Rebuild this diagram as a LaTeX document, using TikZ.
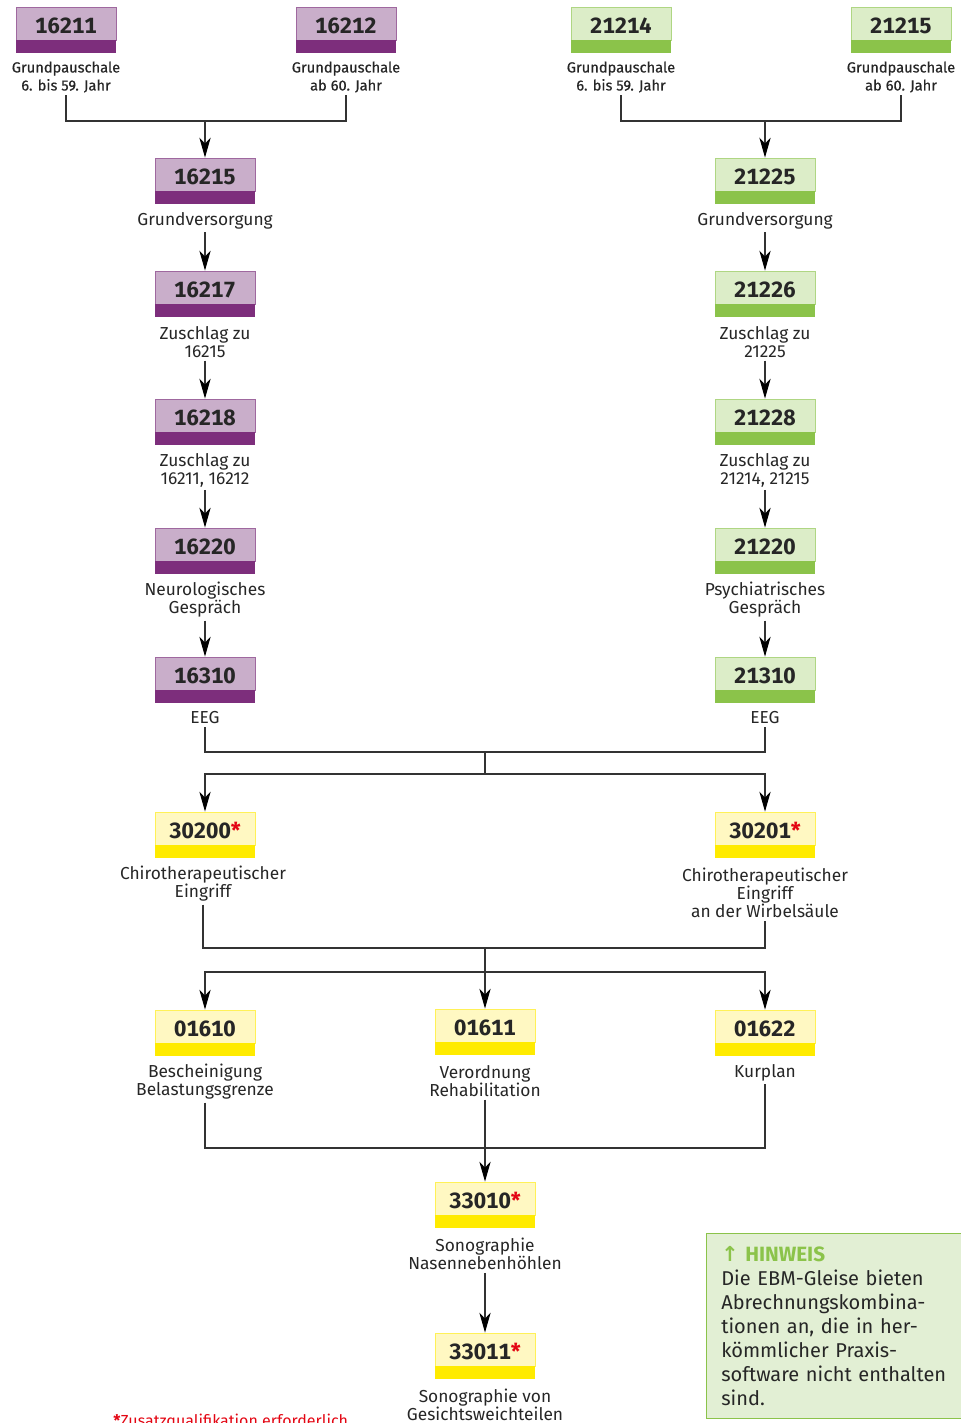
\documentclass[tikz,border=0pt]{standalone}
\usepackage{fontspec}
\setmainfont{Fira Sans}
\newfontfamily\medfont[FakeBold=0.6]{Fira Sans}
\newfontfamily\numfont[Numbers=Monospaced]{Fira Sans}
\newfontfamily\symfont{DejaVu Sans}
\usetikzlibrary{arrows.meta}
\definecolor{purL}{HTML}{C9AECA}
\definecolor{purD}{HTML}{7D2E7C}
\definecolor{grnL}{HTML}{DCEDC8}
\definecolor{grnD}{HTML}{8BC34A}
\definecolor{yelL}{HTML}{FFF8C2}
\definecolor{yelD}{HTML}{FFEB00}
\definecolor{linec}{HTML}{333333}
\definecolor{hintL}{HTML}{E2EFD4}
\definecolor{txt}{HTML}{262626}
\definecolor{starred}{HTML}{E30613}
\tikzset{
  codetop/.style={rectangle, minimum width=75pt, minimum height=24.75pt, inner sep=0pt,
    text height=14.5pt, text depth=0pt,
    line width=0.6pt, text=txt, font=\numfont\fontsize{16.5}{18}\selectfont\bfseries},
  codestrip/.style={rectangle, minimum width=75pt, minimum height=9.75pt, inner sep=0pt, draw=none},
  lbl/.style={align=center, inner sep=2pt, text=txt, font=\fontsize{13}{13.5}\selectfont},
  toplbl/.style={align=center, inner sep=2pt, text=txt, font=\medfont\fontsize{11}{13.5}\selectfont},
  conn/.style={draw=linec, line width=0.8pt},
  arr/.style={conn, -{Stealth[length=15pt, width=8.5pt, inset=4.5pt, color=black]}},
}
\newcommand\cbox[6]{%
  \node[codetop, fill=#5, draw=#6!55!#5] (#1) at (#2,#3+16.5) {#4};
  \node[codestrip, fill=#6] (#1s) at (#2,#3+39.5) {};
}
\newcommand\rstar{\textcolor{starred}{*}}
\begin{document}
\begin{tikzpicture}[x=0.75pt, y=-0.75pt]
\useasboundingbox (0,0) rectangle (960,1423);
% top row
\cbox{b16211}{66}{7}{16211}{purL}{purD}
\cbox{b16212}{346}{7}{16212}{purL}{purD}
\cbox{b21214}{621}{7}{21214}{grnL}{grnD}
\cbox{b21215}{901}{7}{21215}{grnL}{grnD}
\node[toplbl] (l16211) at (66,77) {Grundpauschale\\6. bis 59. Jahr};
\node[toplbl] (l16212) at (346,77) {Grundpauschale\\ab 60. Jahr};
\node[toplbl] (l21214) at (621,77) {Grundpauschale\\6. bis 59. Jahr};
\node[toplbl] (l21215) at (901,77) {Grundpauschale\\ab 60. Jahr};
% left column
\cbox{b16215}{205}{158}{16215}{purL}{purD}
\cbox{b16217}{205}{271}{16217}{purL}{purD}
\cbox{b16218}{205}{399}{16218}{purL}{purD}
\cbox{b16220}{205}{528}{16220}{purL}{purD}
\cbox{b16310}{205}{657}{16310}{purL}{purD}
\node[lbl] (l16215) at (205,221) {Grundversorgung};
\node[lbl] (l16217) at (205,342) {Zuschlag zu\\16215};
\node[lbl] (l16218) at (205,470) {Zuschlag zu\\16211, 16212};
\node[lbl] (l16220) at (205,600) {Neurologisches\\Gespräch};
\node[lbl] (l16310) at (205,718) {EEG};
% right column
\cbox{b21225}{765}{158}{21225}{grnL}{grnD}
\cbox{b21226}{765}{271}{21226}{grnL}{grnD}
\cbox{b21228}{765}{399}{21228}{grnL}{grnD}
\cbox{b21220}{765}{528}{21220}{grnL}{grnD}
\cbox{b21310}{765}{657}{21310}{grnL}{grnD}
\node[lbl] (l21225) at (765,221) {Grundversorgung};
\node[lbl] (l21226) at (765,342) {Zuschlag zu\\21225};
\node[lbl] (l21228) at (765,470) {Zuschlag zu\\21214, 21215};
\node[lbl] (l21220) at (765,600) {Psychiatrisches\\Gespräch};
\node[lbl] (l21310) at (765,718) {EEG};
% yellow
\cbox{b30200}{205}{812}{30200\rstar}{yelL}{yelD}
\cbox{b30201}{765}{812}{30201\rstar}{yelL}{yelD}
\node[lbl] (l30200) at (203,884) {Chirotherapeutischer\\Eingriff};
\node[lbl] (l30201) at (765,893) {Chirotherapeutischer\\Eingriff\\an der Wirbelsäule};
\cbox{b01610}{205}{1010}{01610}{yelL}{yelD}
\cbox{b01611}{485}{1009}{01611}{yelL}{yelD}
\cbox{b01622}{765}{1010}{01622}{yelL}{yelD}
\node[lbl] (l01610) at (205,1082) {Bescheinigung\\Belastungsgrenze};
\node[lbl] (l01611) at (485,1081) {Verordnung\\Rehabilitation};
\node[lbl] (l01622) at (765,1073) {Kurplan};
\cbox{b33010}{485}{1182}{33010\rstar}{yelL}{yelD}
\cbox{b33011}{485}{1333}{33011\rstar}{yelL}{yelD}
\node[lbl] (l33010) at (485,1254) {Sonographie\\Nasennebenhöhlen};
\node[lbl] (l33011) at (485,1405) {Sonographie von\\Gesichtsweichteilen};
% junctions
\coordinate (jTL) at (205,121);
\coordinate (jTR) at (765,121);
\coordinate (m1) at (485,752);
\coordinate (m2) at (485,774);
\coordinate (m3) at (485,948);
\coordinate (m4) at (485,972);
\coordinate (m5) at (485,1148);
% connectors
\draw[conn] (l16211.south) |- (jTL) -| (l16212.south);
\draw[arr] (jTL) -- (b16215.north);
\draw[conn] (l21214.south) |- (jTR) -| (l21215.south);
\draw[arr] (jTR) -- (b21225.north);
\draw[arr] (l16215.south) -- (b16217.north);
\draw[arr] (l16217.south) -- (b16218.north);
\draw[arr] (l16218.south) -- (b16220.north);
\draw[arr] (l16220.south) -- (b16310.north);
\draw[arr] (l21225.south) -- (b21226.north);
\draw[arr] (l21226.south) -- (b21228.north);
\draw[arr] (l21228.south) -- (b21220.north);
\draw[arr] (l21220.south) -- (b21310.north);
\draw[conn] (l16310.south) |- (m1) -| (l21310.south);
\draw[conn] (m1) -- (m2);
\draw[arr] (m2) -| (b30200.north);
\draw[arr] (m2) -| (b30201.north);
\draw[conn] (l30200.south) |- (m3) -| (l30201.south);
\draw[conn] (m3) -- (m4);
\draw[arr] (m4) -| (b01610.north);
\draw[arr] (m4) -- (b01611.north);
\draw[arr] (m4) -| (b01622.north);
\draw[conn] (l01610.south) |- (m5) -| (l01622.south);
\draw[arr] (l01611.south) -- (b33010.north);
\draw[arr] (l33010.south) -- (b33011.north);
% hint box
\node[draw=grnD, fill=hintL, line width=1pt, anchor=north west, minimum width=192pt,
  minimum height=138.75pt, text width=170pt, inner xsep=10.5pt, inner ysep=6pt, align=left,
  font=\fontsize{15}{18}\selectfont, text=txt] (hint) at (706,1233)
  {{\color{grnD}\bfseries\fontsize{15.5}{18}\selectfont{\symfont ↑} HINWEIS}\\Die EBM-Gleise bieten\\Abrechnungskombina-\\tionen an, die in her-\\kömmlicher Praxis-\\software nicht enthalten\\sind.};
% footnote
\node[anchor=west, inner sep=0pt, text=starred, font=\fontsize{12}{13}\selectfont] (foot) at (113,1422)
  {{\bfseries *}Zusatzqualifikation erforderlich};
\end{tikzpicture}
\end{document}
